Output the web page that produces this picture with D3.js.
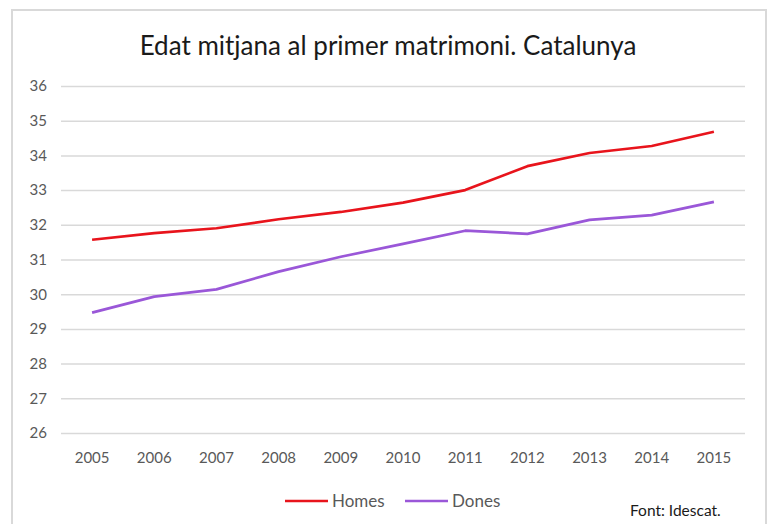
<!DOCTYPE html>
<html>
<head>
<meta charset="utf-8">
<script src="https://cdn.jsdelivr.net/npm/d3@7"></script>
<style>
  body { margin: 0; background: #fff; }
  text { font-family: Lato, "Open Sans", sans-serif; }
</style>
</head>
<body>
<div id="chart"></div>
<script>
const years = ["2005", "2006", "2007", "2008", "2009", "2010", "2011", "2012", "2013", "2014", "2015"];
const homes = [31.57, 31.76, 31.9, 32.16, 32.37, 32.64, 33.0, 33.69, 34.07, 34.27, 34.68];
const dones = [29.47, 29.93, 30.14, 30.65, 31.08, 31.45, 31.83, 31.74, 32.14, 32.28, 32.66];
const yTicks = [26, 27, 28, 29, 30, 31, 32, 33, 34, 35, 36];

const colors = { homes: "#e8141c", dones: "#9a57d8", grid: "#d9d9d9", text: "#595959" };
const width = 771, height = 524;

const svg = d3.select("#chart").append("svg")
  .attr("width", width).attr("height", height);

// outer frame
svg.append("rect")
  .attr("x", 12).attr("y", 10)
  .attr("width", 754).attr("height", 530)
  .attr("fill", "#fff").attr("stroke", colors.grid).attr("stroke-width", 2);

svg.append("text")
  .attr("x", 388).attr("y", 55)
  .attr("text-anchor", "middle")
  .attr("font-size", 26).attr("fill", "#1a1a1a")
  .text("Edat mitjana al primer matrimoni. Catalunya");

const x = d3.scaleBand().domain(years).range([61, 745]);
const y = d3.scaleLinear().domain([26, 36]).range([433, 86]);

// gridlines + y labels
const yAxis = svg.append("g")
  .attr("transform", "translate(61,0)")
  .call(d3.axisLeft(y).tickValues(yTicks).tickSize(-684).tickPadding(14));
yAxis.select(".domain").remove();
yAxis.selectAll("line").attr("stroke", colors.grid).attr("stroke-width", 1.5);
yAxis.selectAll("text").attr("fill", colors.text).attr("font-size", 15)
  .attr("font-family", "Lato, 'Open Sans', sans-serif");

const xAxis = svg.append("g")
  .attr("transform", "translate(0,433)")
  .call(d3.axisBottom(x).tickSize(0).tickPadding(19));
xAxis.select(".domain").remove();
xAxis.selectAll("text").attr("fill", colors.text).attr("font-size", 15)
  .attr("font-family", "Lato, 'Open Sans', sans-serif");

const line = d3.line()
  .x((d, i) => x(years[i]) + x.bandwidth() / 2)
  .y(d => y(d));

[[homes, colors.homes], [dones, colors.dones]].forEach(([vals, c]) => {
  svg.append("path")
    .datum(vals)
    .attr("d", line)
    .attr("fill", "none")
    .attr("stroke", c)
    .attr("stroke-width", 2.7)
    .attr("stroke-linejoin", "round");
});

// legend
const legend = [
  { name: "Homes", color: colors.homes, x: 285 },
  { name: "Dones", color: colors.dones, x: 405 },
];
legend.forEach(l => {
  svg.append("line")
    .attr("x1", l.x).attr("x2", l.x + 43)
    .attr("y1", 501).attr("y2", 501)
    .attr("stroke", l.color).attr("stroke-width", 2.7);
  svg.append("text")
    .attr("x", l.x + 47).attr("y", 507)
    .attr("font-size", 17).attr("fill", colors.text)
    .text(l.name);
});

svg.append("text")
  .attr("x", 630).attr("y", 516)
  .attr("font-size", 15.5).attr("fill", "#1a1a1a")
  .text("Font: Idescat.");
</script>
</body>
</html>
